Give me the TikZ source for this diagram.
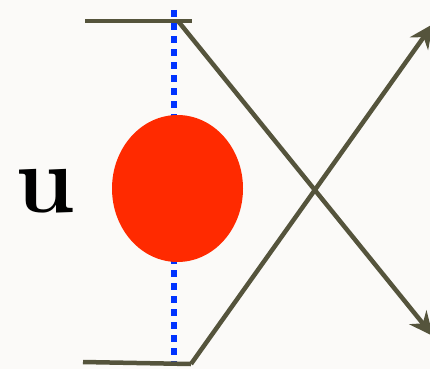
\documentclass[tikz,border=0pt]{standalone}
\usetikzlibrary{arrows.meta,shapes.geometric}
\definecolor{paperwhite}{RGB}{251,250,248}
\definecolor{wireolive}{RGB}{85,84,60}
\definecolor{blobred}{RGB}{255,42,0}
\definecolor{axisblue}{RGB}{0,51,255}

\begin{document}
\begin{tikzpicture}[x=1pt,y=-1pt,>={Stealth[length=24pt,width=22pt]},
    wire/.style={wireolive,line width=4.5pt}]
    \fill[paperwhite] (0,0) rectangle (430,369);
    \clip (0,0) rectangle (430,369);
    % dotted axis behind the blob
    \coordinate (axtop) at (174,10);
    \coordinate (axbot) at (174,362);
    \draw[axisblue,line width=6.5pt,dash pattern=on 7pt off 6pt] (axtop)--(axbot);
    \node[ellipse,fill=blobred,inner sep=0pt,minimum width=131pt,minimum height=147pt] (blob) at (177.5,188.5) {};
    \node[font=\fontsize{96}{96}\selectfont\bfseries,inner sep=0pt] (lab) at (45,191) {u};
    % incoming wires
    \coordinate (inA) at (85,21);  \coordinate (endA) at (192,21);
    \coordinate (kinkA) at (178,21); \coordinate (outA) at (433,336);
    \coordinate (inB) at (83,362); \coordinate (kinkB) at (191,364);
    \coordinate (outB) at (433,24);
    \draw[wire] (inA)--(endA);
    \draw[wire] (inB)--(kinkB);
    \draw[wire,->] (kinkA)--(outA);
    \draw[wire,->] (kinkB)--(outB);
\end{tikzpicture}
\end{document}
